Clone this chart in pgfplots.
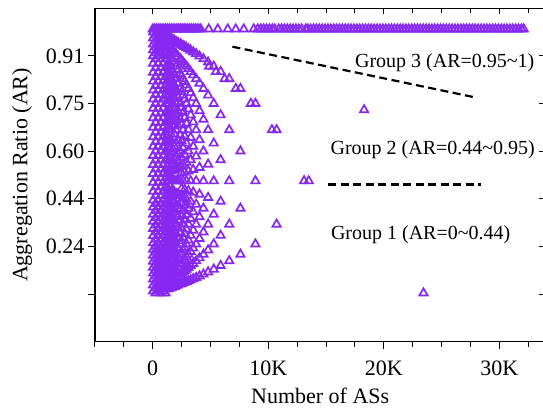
\documentclass[border=0pt]{standalone}
\usepackage{fontspec}
\setmainfont{Liberation Serif}
\usepackage{pgfplots}
\pgfplotsset{compat=1.18}
\definecolor{vio}{RGB}{135,40,240}
\pgfplotsset{
 artrafo/.style={
  y coord trafo/.code={\pgfmathparse{(##1)<0.24 ? (##1)/0.24 : ((##1)<0.44 ? 1+((##1)-0.24)/0.2 : ((##1)<0.6 ? 2+((##1)-0.44)/0.16 : ((##1)<0.75 ? 3+((##1)-0.6)/0.15 : ((##1)<0.91 ? 4+((##1)-0.75)/0.16 : 5+((##1)-0.91)/0.16))))}},
 },
 tri/.style={only marks, mark=triangle, mark size=4.8pt, mark options={draw=vio, fill=white, line width=1.7pt, solid}},
 frame/.style={artrafo, scale only axis, width=450.45pt, height=333.4pt,
  xmin=-5000, xmax=34000, ymin=-0.24, ymax=1.07,
  axis line style={line width=1pt},
  xtick={0,10000,20000,30000},
  minor xtick={-5000,-2500,2500,5000,7500,12500,15000,17500,22500,25000,27500,32500},
  ytick={0,0.24,0.44,0.6,0.75,0.91},
  tick style={line width=1pt, black},
  scaled x ticks=false},
}
\begin{document}
\begin{tikzpicture}
\begin{axis}[name=main, frame,
 tick align=outside, xtick pos=left, ytick pos=left,
 xticklabels={0,10K,20K,30K},
 yticklabels={,0.24,0.44,0.60,0.75,0.91},
 major tick length=7pt, minor tick length=5pt,
 ticklabel style={font=\fontsize{22}{26}\selectfont},
 xticklabel style={yshift=-9pt},
 label style={font=\fontsize{22}{26}\selectfont},
 xlabel={Number of ASs}, ylabel={Aggregation Ratio (AR)},
 xlabel style={at={(axis description cs:0.5,-0.162)}, anchor=center},
 ylabel style={at={(axis description cs:-0.162,0.5)}, anchor=center},
]
% dense column near zero
\addplot[tri] coordinates {(30,0.015)(30,0.045)(30,0.075)(30,0.105)(30,0.135)(30,0.165)(30,0.195)(30,0.225)(30,0.255)(30,0.285)(30,0.315)(30,0.345)(30,0.375)(30,0.405)(30,0.435)(30,0.465)(30,0.495)(30,0.525)(30,0.555)(30,0.585)(30,0.615)(30,0.645)(30,0.675)(30,0.705)(30,0.735)(30,0.765)(30,0.795)(30,0.825)(30,0.855)(30,0.885)(30,0.91)(30,0.93)(30,0.95)(30,0.97)(30,0.99)};
\addplot[tri] coordinates {(250,0.005)(250,0.03)(250,0.06)(250,0.09)(250,0.12)(250,0.15)(250,0.18)(250,0.21)(250,0.24)(250,0.27)(250,0.3)(250,0.33)(250,0.36)(250,0.39)(250,0.42)(250,0.45)(250,0.48)(250,0.51)(250,0.54)(250,0.57)(250,0.6)(250,0.63)(250,0.66)(250,0.69)(250,0.72)(250,0.75)(250,0.78)(250,0.81)(250,0.84)(250,0.87)(250,0.9)(250,0.92)(250,0.94)(250,0.96)(250,0.98)};
\addplot[tri] coordinates {(480,0.015)(480,0.045)(480,0.075)(480,0.105)(480,0.135)(480,0.165)(480,0.195)(480,0.225)(480,0.255)(480,0.285)(480,0.315)(480,0.345)(480,0.375)(480,0.405)(480,0.435)(480,0.465)(480,0.495)(480,0.525)(480,0.555)(480,0.585)(480,0.615)(480,0.645)(480,0.675)(480,0.705)(480,0.735)(480,0.765)(480,0.795)(480,0.825)(480,0.855)(480,0.885)(480,0.91)(480,0.93)(480,0.95)(480,0.97)(480,0.99)};
\addplot[tri] coordinates {(700,0.005)(700,0.03)(700,0.06)(700,0.09)(700,0.12)(700,0.15)(700,0.18)(700,0.21)(700,0.24)(700,0.27)(700,0.3)(700,0.33)(700,0.36)(700,0.39)(700,0.42)(700,0.45)(700,0.48)(700,0.51)(700,0.54)(700,0.57)(700,0.6)(700,0.63)(700,0.66)(700,0.69)(700,0.72)(700,0.75)(700,0.78)(700,0.81)(700,0.84)(700,0.87)(700,0.9)(700,0.92)(700,0.94)(700,0.96)(700,0.98)};
\addplot[tri] coordinates {(900,0.015)(900,0.045)(900,0.075)(900,0.105)(900,0.135)(900,0.165)(900,0.195)(900,0.225)(900,0.255)(900,0.285)(900,0.315)(900,0.345)(900,0.375)(900,0.405)(900,0.435)(900,0.465)(900,0.495)(900,0.525)(900,0.555)(900,0.585)(900,0.615)(900,0.645)(900,0.675)(900,0.705)(900,0.735)(900,0.765)(900,0.795)(900,0.825)(900,0.855)(900,0.885)(900,0.91)(900,0.93)(900,0.95)(900,0.97)(900,0.99)};
\addplot[tri] coordinates {(1110,0.005)(1110,0.03)(1110,0.06)(1110,0.09)(1110,0.12)(1110,0.15)(1110,0.18)(1110,0.21)(1110,0.24)(1110,0.27)(1110,0.3)(1110,0.33)(1110,0.36)(1110,0.39)(1110,0.42)(1110,0.45)(1110,0.48)(1110,0.51)(1110,0.54)(1110,0.57)(1110,0.6)(1110,0.63)(1110,0.66)(1110,0.69)(1110,0.72)(1110,0.75)(1110,0.78)(1110,0.81)(1110,0.84)(1110,0.87)(1110,0.9)(1110,0.92)(1110,0.94)(1110,0.96)(1110,0.98)};
% fan
\addplot[tri] coordinates {(1243,0.025)(1243,0.05)(1243,0.075)(1243,0.1)(1243,0.125)(1243,0.15)(1243,0.175)(1243,0.2)(1243,0.225)(1243,0.25)(1243,0.275)(1243,0.3)(1243,0.325)(1243,0.35)(1243,0.375)(1243,0.4)(1243,0.425)(1243,0.45)(1243,0.475)(1243,0.5)(1243,0.525)(1243,0.55)(1243,0.575)(1243,0.6)(1243,0.625)(1243,0.65)(1243,0.675)(1243,0.7)(1243,0.725)(1243,0.75)(1243,0.775)(1243,0.8)(1243,0.825)(1243,0.85)(1243,0.875)(1243,0.9)(1243,0.925)(1243,0.95)(1243,0.975)};
\addplot[tri] coordinates {(1374,0.028)(1374,0.056)(1374,0.083)(1374,0.111)(1374,0.139)(1374,0.167)(1374,0.194)(1374,0.222)(1374,0.25)(1374,0.278)(1374,0.306)(1374,0.333)(1374,0.361)(1374,0.389)(1374,0.417)(1374,0.444)(1374,0.472)(1374,0.5)(1374,0.528)(1374,0.556)(1374,0.583)(1374,0.611)(1374,0.639)(1374,0.667)(1374,0.694)(1374,0.722)(1374,0.75)(1374,0.778)(1374,0.806)(1374,0.833)(1374,0.861)(1374,0.889)(1374,0.917)(1374,0.944)(1374,0.972)};
\addplot[tri] coordinates {(1492,0.03)(1492,0.061)(1492,0.091)(1492,0.121)(1492,0.152)(1492,0.182)(1492,0.212)(1492,0.242)(1492,0.273)(1492,0.303)(1492,0.333)(1492,0.364)(1492,0.394)(1492,0.424)(1492,0.455)(1492,0.485)(1492,0.515)(1492,0.545)(1492,0.576)(1492,0.606)(1492,0.636)(1492,0.667)(1492,0.697)(1492,0.727)(1492,0.758)(1492,0.788)(1492,0.818)(1492,0.848)(1492,0.879)(1492,0.909)(1492,0.939)(1492,0.97)};
\addplot[tri] coordinates {(1633,0.033)(1633,0.067)(1633,0.1)(1633,0.133)(1633,0.167)(1633,0.2)(1633,0.233)(1633,0.267)(1633,0.3)(1633,0.333)(1633,0.367)(1633,0.4)(1633,0.433)(1633,0.467)(1633,0.5)(1633,0.533)(1633,0.567)(1633,0.6)(1633,0.633)(1633,0.667)(1633,0.7)(1633,0.733)(1633,0.767)(1633,0.8)(1633,0.833)(1633,0.867)(1633,0.9)(1633,0.933)(1633,0.967)};
\addplot[tri] coordinates {(1742,0.036)(1742,0.071)(1742,0.107)(1742,0.143)(1742,0.179)(1742,0.214)(1742,0.25)(1742,0.286)(1742,0.321)(1742,0.357)(1742,0.393)(1742,0.429)(1742,0.464)(1742,0.5)(1742,0.536)(1742,0.571)(1742,0.607)(1742,0.643)(1742,0.679)(1742,0.714)(1742,0.75)(1742,0.786)(1742,0.821)(1742,0.857)(1742,0.893)(1742,0.929)(1742,0.964)};
\addplot[tri] coordinates {(1867,0.038)(1867,0.077)(1867,0.115)(1867,0.154)(1867,0.192)(1867,0.231)(1867,0.269)(1867,0.308)(1867,0.346)(1867,0.385)(1867,0.423)(1867,0.462)(1867,0.5)(1867,0.538)(1867,0.577)(1867,0.615)(1867,0.654)(1867,0.692)(1867,0.731)(1867,0.769)(1867,0.808)(1867,0.846)(1867,0.885)(1867,0.923)(1867,0.962)};
\addplot[tri] coordinates {(2012,0.042)(2012,0.083)(2012,0.125)(2012,0.167)(2012,0.208)(2012,0.25)(2012,0.292)(2012,0.333)(2012,0.375)(2012,0.417)(2012,0.458)(2012,0.5)(2012,0.542)(2012,0.583)(2012,0.625)(2012,0.667)(2012,0.708)(2012,0.75)(2012,0.792)(2012,0.833)(2012,0.875)(2012,0.917)(2012,0.958)};
\addplot[tri] coordinates {(2180,0.045)(2180,0.091)(2180,0.136)(2180,0.182)(2180,0.227)(2180,0.273)(2180,0.318)(2180,0.364)(2180,0.409)(2180,0.455)(2180,0.5)(2180,0.545)(2180,0.591)(2180,0.636)(2180,0.682)(2180,0.727)(2180,0.773)(2180,0.818)(2180,0.864)(2180,0.909)(2180,0.955)};
\addplot[tri] coordinates {(2380,0.05)(2380,0.1)(2380,0.15)(2380,0.2)(2380,0.25)(2380,0.3)(2380,0.35)(2380,0.4)(2380,0.45)(2380,0.5)(2380,0.55)(2380,0.6)(2380,0.65)(2380,0.7)(2380,0.75)(2380,0.8)(2380,0.85)(2380,0.9)(2380,0.95)};
\addplot[tri] coordinates {(2494,0.053)(2494,0.105)(2494,0.158)(2494,0.211)(2494,0.263)(2494,0.316)(2494,0.368)(2494,0.421)(2494,0.474)(2494,0.526)(2494,0.579)(2494,0.632)(2494,0.684)(2494,0.737)(2494,0.789)(2494,0.842)(2494,0.895)(2494,0.947)};
\addplot[tri] coordinates {(2620,0.056)(2620,0.111)(2620,0.167)(2620,0.222)(2620,0.278)(2620,0.333)(2620,0.389)(2620,0.444)(2620,0.5)(2620,0.556)(2620,0.611)(2620,0.667)(2620,0.722)(2620,0.778)(2620,0.833)(2620,0.889)(2620,0.944)};
\addplot[tri] coordinates {(2759,0.059)(2759,0.118)(2759,0.176)(2759,0.235)(2759,0.294)(2759,0.353)(2759,0.412)(2759,0.471)(2759,0.529)(2759,0.588)(2759,0.647)(2759,0.706)(2759,0.765)(2759,0.824)(2759,0.882)(2759,0.941)};
\addplot[tri] coordinates {(2913,0.0625)(2913,0.125)(2913,0.1875)(2913,0.25)(2913,0.3125)(2913,0.375)(2913,0.4375)(2913,0.5)(2913,0.5625)(2913,0.625)(2913,0.6875)(2913,0.75)(2913,0.8125)(2913,0.875)(2913,0.9375)};
\addplot[tri] coordinates {(3086,0.067)(3086,0.133)(3086,0.2)(3086,0.267)(3086,0.333)(3086,0.4)(3086,0.467)(3086,0.533)(3086,0.6)(3086,0.667)(3086,0.733)(3086,0.8)(3086,0.867)(3086,0.933)};
\addplot[tri] coordinates {(3281,0.071)(3281,0.143)(3281,0.214)(3281,0.286)(3281,0.357)(3281,0.429)(3281,0.5)(3281,0.571)(3281,0.643)(3281,0.714)(3281,0.786)(3281,0.857)(3281,0.929)};
\addplot[tri] coordinates {(3502,0.077)(3502,0.154)(3502,0.231)(3502,0.308)(3502,0.385)(3502,0.462)(3502,0.538)(3502,0.615)(3502,0.692)(3502,0.769)(3502,0.846)(3502,0.923)};
\addplot[tri] coordinates {(3755,0.083)(3755,0.167)(3755,0.25)(3755,0.333)(3755,0.417)(3755,0.5)(3755,0.583)(3755,0.667)(3755,0.75)(3755,0.833)(3755,0.917)};
\addplot[tri] coordinates {(4047,0.091)(4047,0.182)(4047,0.273)(4047,0.364)(4047,0.455)(4047,0.545)(4047,0.636)(4047,0.727)(4047,0.818)(4047,0.909)};
\addplot[tri] coordinates {(4388,0.1)(4388,0.2)(4388,0.3)(4388,0.4)(4388,0.5)(4388,0.6)(4388,0.7)(4388,0.8)(4388,0.9)};
\addplot[tri] coordinates {(4793,0.111)(4793,0.222)(4793,0.333)(4793,0.444)(4793,0.556)(4793,0.667)(4793,0.778)(4793,0.889)};
\addplot[tri] coordinates {(4880,0.875)(5279,0.125)(5279,0.25)(5279,0.375)(5279,0.5)(5279,0.625)(5279,0.75)(5279,0.875)};
\addplot[tri] coordinates {(5470,0.857)(5876,0.143)(5876,0.286)(5876,0.429)(5876,0.571)(5876,0.714)(5876,0.857)};
\addplot[tri] coordinates {(6220,0.833)(6624,0.167)(6624,0.333)(6624,0.5)(6624,0.667)(6624,0.833)};
\addplot[tri] coordinates {(7190,0.8)(7591,0.2)(7591,0.4)(7591,0.6)(7591,0.8)};
\addplot[tri] coordinates {(8490,0.75)(8889,0.25)(8889,0.5)(8889,0.75)};
\addplot[tri] coordinates {(10320,0.667)(10722,0.333)(10722,0.667)};
\addplot[tri] coordinates {(13100,0.5)(13506,0.5)};
% outliers
\addplot[tri] coordinates {(18300,0.73)(23440,0.005)};
% AR = 1 band
\addplot[tri] coordinates {(0,1)(160,1)(320,1)(480,1)(640,1)(800,1)(960,1)(1120,1)(1280,1)(1440,1)(1600,1)(1760,1)(1920,1)(2080,1)(2240,1)(2400,1)(2560,1)(2720,1)(2880,1)(3040,1)(3200,1)(3360,1)(3520,1)(3680,1)(3840,1)(4000,1)(4156,1)(4848,1)(5628,1)(6494,1)(7186,1)(7879,1)(8745,1)};
\addplot[tri] coordinates {(9091,1)(9350,1)(9600,1)(9850,1)(10100,1)(10350,1)(10563,1)(10909,1)(11150,1)(11400,1)(11650,1)(11900,1)(12150,1)(12400,1)(12650,1)(12900,1)(13247,1)};
\addplot[tri] coordinates {(13420,1)(13670,1)(13920,1)(14170,1)(14420,1)(14670,1)(14920,1)(15170,1)(15420,1)(15670,1)(15920,1)(16170,1)(16420,1)(16670,1)(16920,1)(17170,1)(17420,1)(17670,1)(17920,1)(18170,1)(18420,1)(18670,1)(18920,1)(19170,1)(19420,1)(19670,1)(19920,1)(20170,1)(20420,1)(20670,1)(20920,1)(21170,1)(21420,1)(21670,1)(21920,1)(22170,1)(22420,1)(22670,1)(22920,1)(23170,1)(23420,1)(23670,1)(23920,1)(24170,1)(24420,1)(24670,1)(24920,1)(25170,1)(25420,1)(25670,1)(25920,1)(26170,1)(26420,1)(26670,1)(26920,1)(27170,1)(27420,1)(27670,1)(27920,1)(28170,1)(28420,1)(28670,1)(28920,1)(29170,1)(29420,1)(29670,1)(29920,1)(30170,1)(30420,1)(30670,1)(30920,1)(31170,1)(31420,1)(31670,1)(31920,1)(32120,1)};
% group separators
\addplot[black, line width=2.2pt, dash pattern=on 8pt off 4.5pt] coordinates {(6900,0.941) (28000,0.770)};
\addplot[black, line width=2.2pt, dash pattern=on 8pt off 4.5pt] coordinates {(15200,0.488) (28400,0.488)};
\node[font=\fontsize{20}{24}\selectfont] at (axis cs:25280,0.886) {Group 3 (AR=0.95\textasciitilde 1)};
\node[font=\fontsize{20}{24}\selectfont] at (axis cs:24240,0.6045) {Group 2 (AR=0.44\textasciitilde 0.95)};
\node[font=\fontsize{20}{24}\selectfont] at (axis cs:23200,0.288) {Group 1 (AR=0\textasciitilde 0.44)};
\end{axis}
\begin{axis}[frame, at={(main.south west)}, anchor=south west,
 tick align=inside, xtick pos=right, ytick pos=right,
 xticklabels={}, yticklabels={},
 major tick length=6pt, minor tick length=5pt]
\end{axis}
\pgfresetboundingbox
\path[use as bounding box] ([xshift=-95pt,yshift=-66.3pt]main.south west) rectangle ([xshift=448pt,yshift=8.3pt]main.north west);
\end{tikzpicture}
\end{document}
